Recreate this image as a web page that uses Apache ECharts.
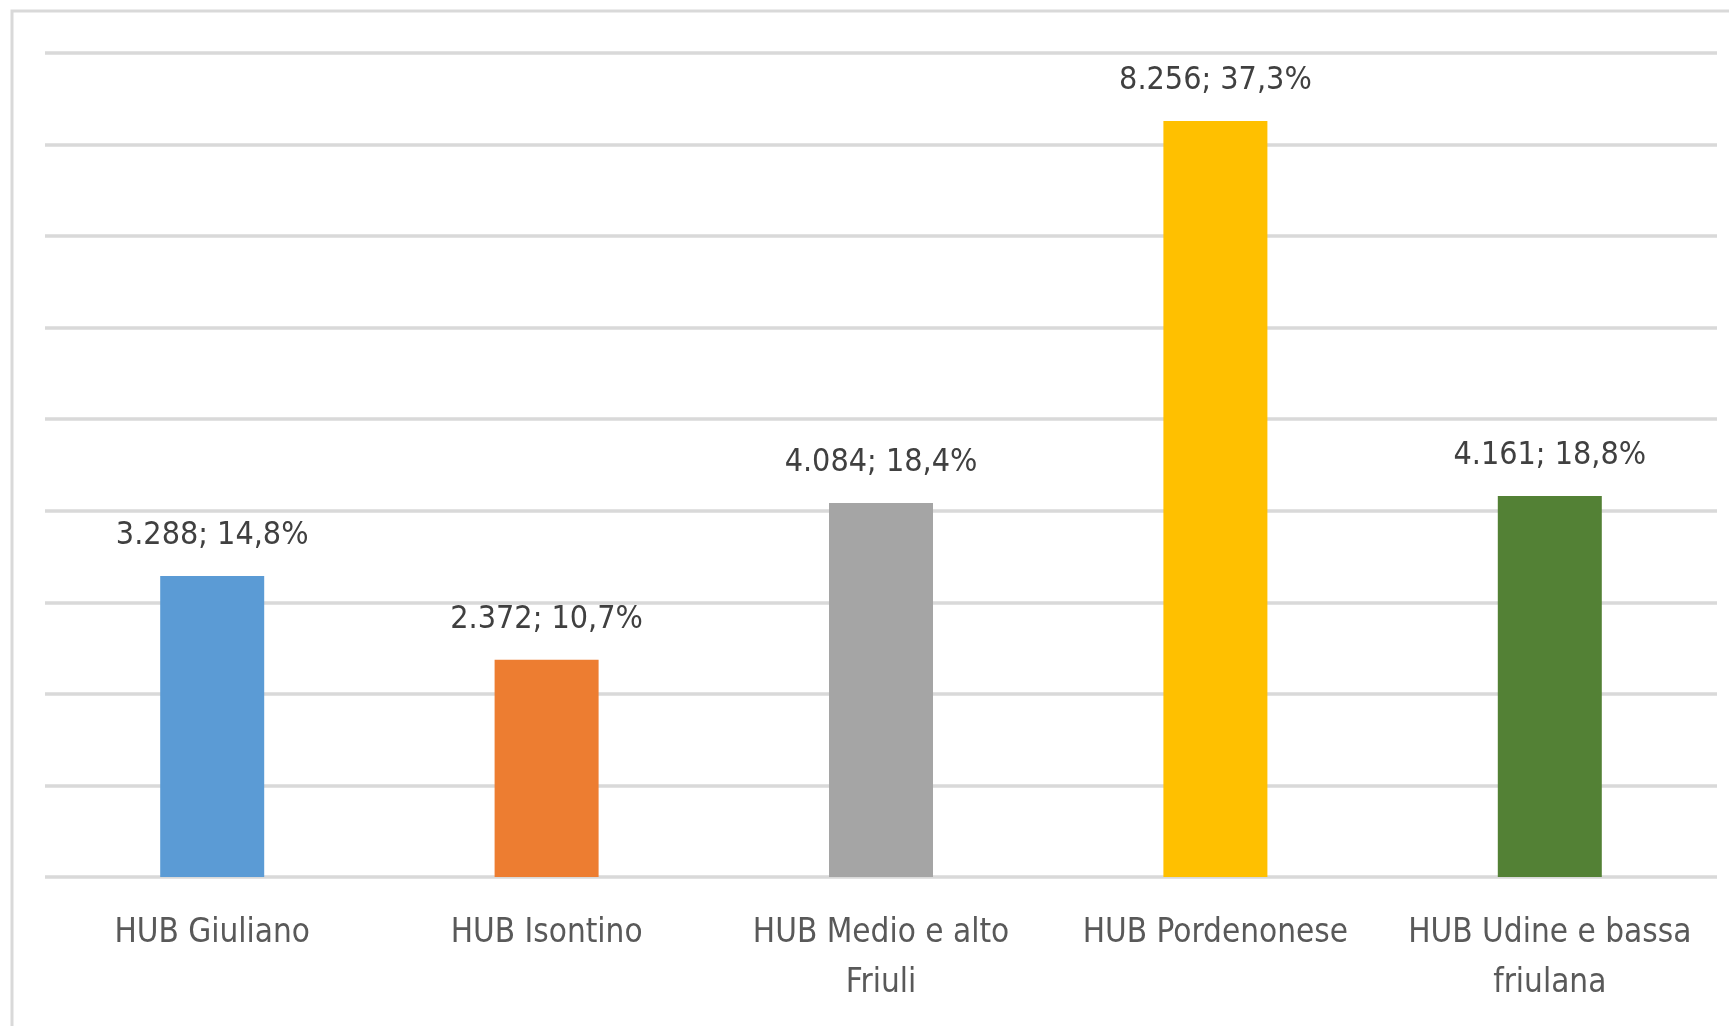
<!DOCTYPE html>
<html>
<head>
<meta charset="utf-8">
<script src="https://cdn.jsdelivr.net/npm/echarts@6/dist/echarts.min.js"></script>
<style>
  html, body { margin: 0; padding: 0; background: #fff; }
  #main { width: 1729px; height: 1026px; }
</style>
</head>
<body>
<div id="main"></div>
<script>
// dati
var categories = ['HUB Giuliano', 'HUB Isontino', 'HUB Medio e alto\nFriuli', 'HUB Pordenonese', 'HUB Udine e bassa\nfriulana'];
var values = [3288, 2372, 4084, 8256, 4161];
var shares = ['14,8', '10,7', '18,4', '37,3', '18,8'];
var colors = ['#5B9BD5', '#ED7D31', '#A5A5A5', '#FFC000', '#538135'];

var font = '"Liberation Sans Narrow", "DejaVu Sans Condensed", sans-serif';

function fmt(n) {
  return String(n).replace(/\B(?=(\d{3})+(?!\d))/g, '.');
}

var myChart = echarts.init(document.getElementById('main'));

var option = {
  backgroundColor: '#fff',
  animation: false,
  graphic: [
    {
      type: 'rect',
      shape: { x: 12, y: 11, width: 1800, height: 1100 },
      style: { fill: 'none', stroke: '#d9d9d9', lineWidth: 3 },
      silent: true
    }
  ],
  grid: { left: 45, right: 12, top: 53, bottom: 149 },
  xAxis: {
    type: 'category',
    data: categories,
    axisLine: { show: false },
    axisTick: { show: false },
    axisLabel: {
      margin: 31,
      color: '#595959',
      fontFamily: font,
      fontSize: 33,
      lineHeight: 50,
      interval: 0
    }
  },
  yAxis: {
    type: 'value',
    min: 0,
    max: 9000,
    interval: 1000,
    axisLabel: { show: false },
    axisLine: { show: false },
    axisTick: { show: false },
    splitLine: { lineStyle: { color: '#d9d9d9', width: 3.5 } }
  },
  series: [
    {
      type: 'bar',
      barWidth: 104,
      data: values.map(function (v, i) {
        return { value: v, itemStyle: { color: colors[i] } };
      }),
      label: {
        show: true,
        position: 'top',
        distance: 20,
        color: '#404040',
        fontFamily: font,
        fontSize: 32,
        lineHeight: 40,
        formatter: function (p) {
          return fmt(p.value) + '; ' + shares[p.dataIndex] + '%';
        }
      }
    }
  ]
};

myChart.setOption(option);
</script>
</body>
</html>
